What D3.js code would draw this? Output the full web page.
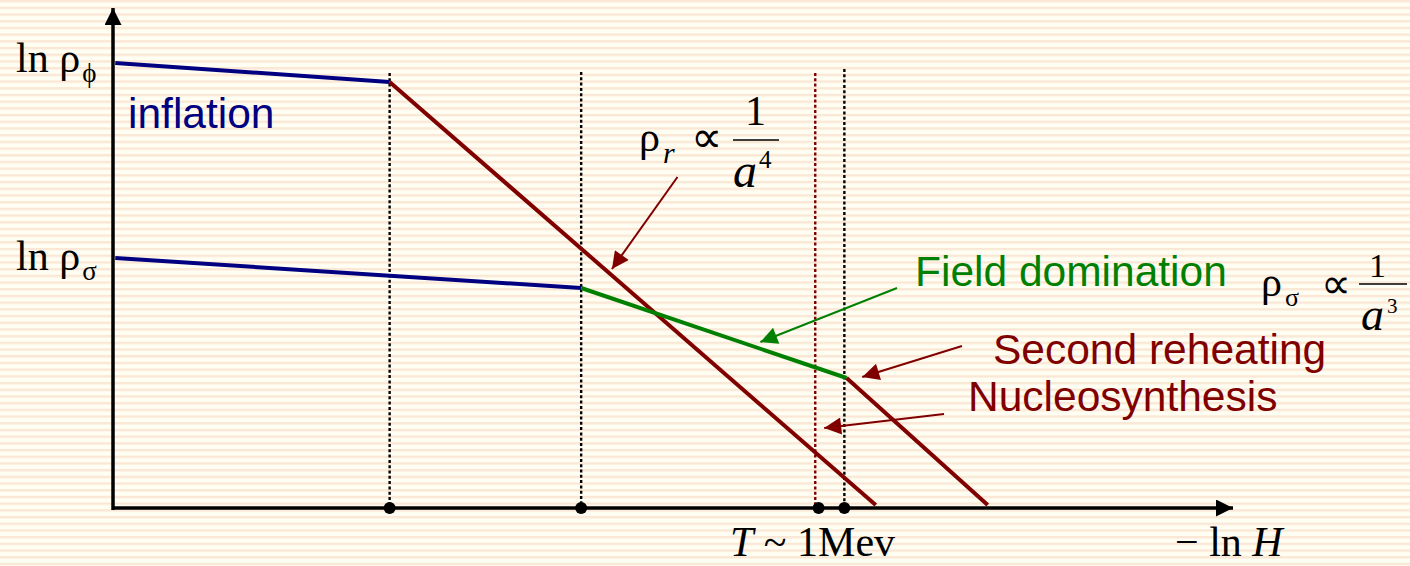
<!DOCTYPE html>
<html>
<head>
<meta charset="utf-8">
<script src="https://cdn.jsdelivr.net/npm/d3@7"></script>
<style>
  html, body { margin: 0; padding: 0; background: #fffef3; }
  svg { display: block; }
  .serif { font-family: "Liberation Serif", "Times New Roman", serif; }
  .sans { font-family: "Liberation Sans", Arial, sans-serif; }
</style>
</head>
<body>
<svg id="chart" width="1410" height="566"></svg>
<script>
// Energy-density history: x = -ln H, y = ln rho (arbitrary units)
const inflatonLine   = [[0.02, 8.90], [2.47, 8.52]];
const radiationLine  = [[2.47, 8.52], [6.81, 0.06]];
const curvatonLine   = [[0.02, 5.00], [4.18, 4.40]];
const fieldDomLine   = [[4.18, 4.40], [6.55, 2.60]];
const radiation2Line = [[6.55, 2.60], [7.81, 0.06]];

// Epoch markers on the -ln H axis
const epochX    = [2.47, 4.18, 6.27, 6.53];
const epochTop  = [8.70, 8.72, 8.70, 8.78];
const epochCol  = ["#000000", "#000000", "#800000", "#000000"];
const markerX   = [2.47, 4.18, 6.30, 6.53];

// Annotation arrows: [from, to] in data units
const arrowRad   = [[5.04, 6.62], [4.455, 4.78]];
const arrowField = [[7.00, 4.40], [5.78, 3.32]];
const arrowReh   = [[7.58, 3.24], [6.69, 2.62]];
const arrowNuc   = [[7.42, 1.88], [6.35, 1.60]];

const W = 1410, H = 566;
const svg = d3.select("#chart");

const x = d3.scaleLinear().domain([0, 10]).range([113, 1233]);
const y = d3.scaleLinear().domain([0, 10]).range([508, 8]);

// striped paper background
const defs = svg.append("defs");
const pat = defs.append("pattern")
  .attr("id", "stripes").attr("patternUnits", "userSpaceOnUse")
  .attr("width", 20).attr("height", 6.7);
pat.append("rect").attr("width", 20).attr("height", 6.7).attr("fill", "#fffef3");
pat.append("rect").attr("y", 0).attr("width", 20).attr("height", 2.4).attr("fill", "#fbe7d6");
svg.append("rect").attr("width", W).attr("height", H).attr("fill", "url(#stripes)");

// arrow markers
function addMarker(id, color, w, h) {
  defs.append("marker")
    .attr("id", id).attr("viewBox", "0 0 10 10")
    .attr("refX", 10).attr("refY", 5)
    .attr("markerUnits", "userSpaceOnUse")
    .attr("markerWidth", w).attr("markerHeight", h)
    .attr("orient", "auto")
    .append("path").attr("d", "M0,0 L10,5 L0,10 Z").attr("fill", color);
}
addMarker("headRed", "#800000", 20, 17);
addMarker("headGreen", "#008000", 20, 17);
addMarker("axisHead", "#000000", 17, 17);

const line = d3.line().x(d => x(d[0])).y(d => y(d[1]));

// vertical dotted epoch lines
svg.append("g").selectAll("line").data(epochX).join("line")
  .attr("x1", d => x(d)).attr("x2", d => x(d))
  .attr("y1", (d, i) => y(epochTop[i])).attr("y2", y(0))
  .attr("stroke", (d, i) => epochCol[i])
  .attr("stroke-width", 2.4)
  .attr("stroke-dasharray", "3,2.3");

// axes
svg.append("line")
  .attr("x1", x(0)).attr("x2", x(10)).attr("y1", y(0)).attr("y2", y(0))
  .attr("stroke", "#000").attr("stroke-width", 3.5)
  .attr("marker-end", "url(#axisHead)");
svg.append("line")
  .attr("x1", x(0)).attr("x2", x(0)).attr("y1", y(-0.04)).attr("y2", y(10))
  .attr("stroke", "#000").attr("stroke-width", 3.5)
  .attr("marker-end", "url(#axisHead)");

// density curves
const curves = [
  [inflatonLine, "#000080"],
  [radiationLine, "#800000"],
  [curvatonLine, "#000080"],
  [fieldDomLine, "#008000"],
  [radiation2Line, "#800000"]
];
svg.append("g").selectAll("path").data(curves).join("path")
  .attr("d", d => line(d[0]))
  .attr("fill", "none").attr("stroke", d => d[1])
  .attr("stroke-width", 4);

// epoch dots on the axis
svg.append("g").selectAll("circle").data(markerX).join("circle")
  .attr("cx", d => x(d)).attr("cy", y(0)).attr("r", 6)
  .attr("fill", "#000");

// annotation arrows
const arrows = [
  [arrowRad, "#800000", "headRed"],
  [arrowField, "#008000", "headGreen"],
  [arrowReh, "#800000", "headRed"],
  [arrowNuc, "#800000", "headRed"]
];
svg.append("g").selectAll("path").data(arrows).join("path")
  .attr("d", d => line(d[0]))
  .attr("fill", "none").attr("stroke", d => d[1])
  .attr("stroke-width", 2)
  .attr("marker-end", d => `url(#${d[2]})`);

// ---- text ----
function txt(cls, xPos, yPos, size, color) {
  return svg.append("text").attr("class", cls)
    .attr("x", xPos).attr("y", yPos)
    .attr("font-size", size).attr("fill", color || "#000");
}

// axis labels for the two plateaus
let t = txt("serif", 16, 72, 42);
t.append("tspan").text("ln ρ");
t.append("tspan").attr("font-size", 27).attr("dx", 2).attr("dy", 10).text("ϕ");

t = txt("serif", 16, 270, 42);
t.append("tspan").text("ln ρ");
t.append("tspan").attr("font-size", 27).attr("dx", 2).attr("dy", 10).text("σ");

txt("sans", 128, 128, 42.5, "#000080").text("inflation");
txt("sans", 915, 286, 42.5, "#008000").text("Field domination");
txt("sans", 993, 364, 42.5, "#800000").text("Second reheating");
txt("sans", 968, 411, 42.5, "#800000").text("Nucleosynthesis");

// rho_r ∝ 1/a^4
t = txt("serif", 639, 151, 42);
t.append("tspan").text("ρ");
t.append("tspan").attr("font-size", 30).attr("font-style", "italic").attr("dx", 3).attr("dy", 12).text("r");
txt("serif", 691, 152, 44).text("∝");
svg.append("line").attr("x1", 733).attr("x2", 779).attr("y1", 140).attr("y2", 140)
  .attr("stroke", "#000").attr("stroke-width", 1.6);
txt("serif", 745, 125, 42).text("1");
txt("serif", 733, 187, 48).attr("font-style", "italic").text("a");
txt("serif", 759, 168, 25).text("4");

// rho_sigma ∝ 1/a^3
t = txt("serif", 1261, 296, 42);
t.append("tspan").text("ρ");
t.append("tspan").attr("font-size", 26).attr("dx", 3).attr("dy", 10).text("σ");
txt("serif", 1321, 298, 42).text("∝");
svg.append("line").attr("x1", 1359).attr("x2", 1407).attr("y1", 284).attr("y2", 284)
  .attr("stroke", "#000").attr("stroke-width", 1.6);
txt("serif", 1369, 277, 34).text("1");
txt("serif", 1361, 330, 46).attr("font-style", "italic").text("a");
txt("serif", 1387, 313, 21).text("3");

// x-axis annotations
t = txt("serif", 730, 556, 42);
t.append("tspan").attr("font-style", "italic").text("T");
t.append("tspan").text(" ~ 1Mev");

t = txt("serif", 1175, 556, 42);
t.append("tspan").text("− ln ");
t.append("tspan").attr("font-style", "italic").text("H");
</script>
</body>
</html>
